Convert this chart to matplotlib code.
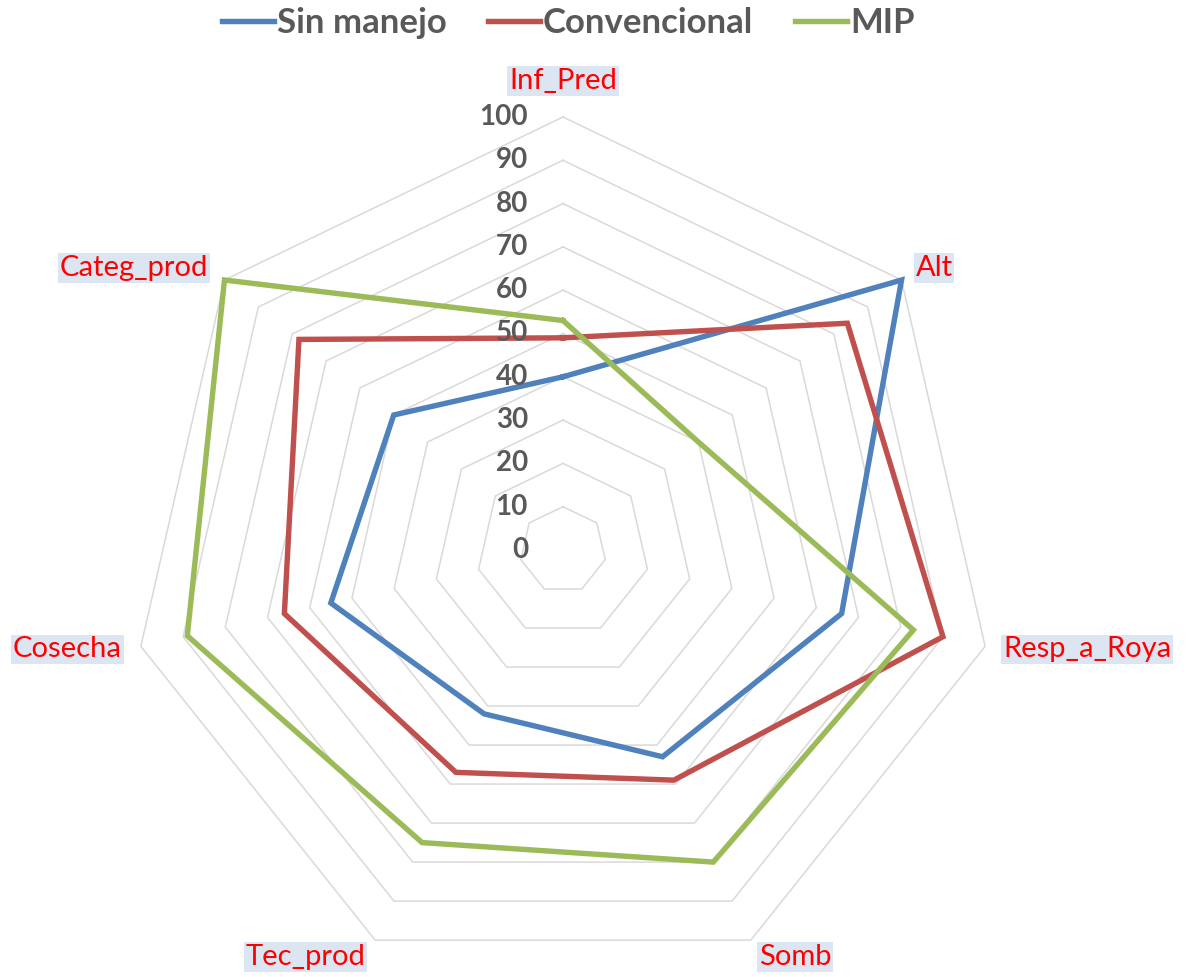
import numpy as np
import matplotlib
matplotlib.use('Agg')
import matplotlib.pyplot as plt

plt.rcParams['font.family'] = ['Lato', 'DejaVu Sans']

categories = ['Inf_Pred', 'Alt', 'Resp_a_Roya', 'Somb', 'Tec_prod', 'Cosecha', 'Categ_prod']
sin_manejo = [40, 100, 66, 53, 42, 55, 50]
convencional = [49, 84, 90, 59, 57, 66, 78]
mip = [53, 40, 83, 80, 75, 89, 100]
levels = list(range(0, 101, 10))

series = [
    ('Sin manejo', sin_manejo, '#4F81BD'),
    ('Convencional', convencional, '#C0504D'),
    ('MIP', mip, '#9BBB59'),
]

# label placement: (dx, dy) pixels from outer vertex, horizontal alignment
label_pos = [
    ((0, 36), 'center'),
    ((14, 12), 'left'),
    ((18, -3), 'left'),
    ((8, -17), 'left'),
    ((-10, -17), 'right'),
    ((-19, -3), 'right'),
    ((-16, 12), 'right'),
]

n = len(categories)
angles = np.arange(n) * 2 * np.pi / n
closed = np.append(angles, angles[0])

fig = plt.figure(figsize=(11.86, 9.77), dpi=100)
ax = fig.add_axes([0.10961, -0.00614, 0.73019, 0.88639], projection='polar')
ax.set_theta_zero_location('N')
ax.set_theta_direction(-1)
ax.set_ylim(0, 100)
ax.grid(False)
ax.set_xticks([])
ax.set_yticks([])
ax.spines['polar'].set_visible(False)
ax.patch.set_visible(False)

for lvl in levels[1:]:
    ax.plot(closed, [lvl] * (n + 1), color='#D9D9D9', lw=1.1, zorder=1, clip_on=False)

handles = []
for name, vals, col in series:
    h, = ax.plot(closed, vals + vals[:1], color=col, lw=3.9, label=name,
                 solid_joinstyle='miter', zorder=2, clip_on=False)
    handles.append(h)

for lvl in levels:
    ax.annotate(str(lvl), xy=(0, lvl), xytext=(-35, 0), textcoords='offset pixels',
                ha='right', va='center', fontsize=20, fontweight='bold',
                color='#595959', zorder=5)

for ang, cat, (off, ha) in zip(angles, categories, label_pos):
    ax.annotate(cat, xy=(ang, 100), xytext=off, textcoords='offset pixels',
                ha=ha, va='center', fontsize=21, color='#FF0000',
                bbox=dict(boxstyle='square,pad=0.06', fc='#DCE6F2', ec='none'),
                annotation_clip=False)

fig.legend(handles=handles, loc='upper center', bbox_to_anchor=(0.479, 1.025),
           ncol=3, frameon=False, handlelength=1.5, handletextpad=0.08,
           columnspacing=1.2,
           prop={'size': 25, 'weight': 'bold'}, labelcolor='#595959')

fig.savefig('out.png', dpi=100)
